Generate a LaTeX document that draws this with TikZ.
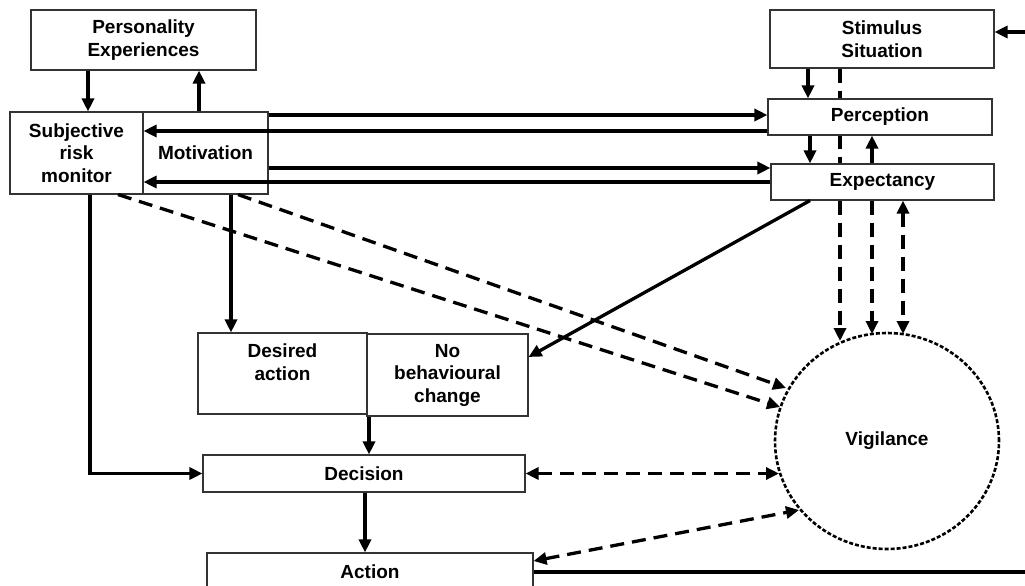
\documentclass[tikz,border=0pt]{standalone}
\usepackage{fontspec}
\setmainfont{Liberation Sans}
\usetikzlibrary{arrows.meta,shapes.geometric}
\pgfdeclarelayer{paper}
\pgfdeclarelayer{behind}
\pgfsetlayers{paper,behind,main}
\begin{document}
\begin{tikzpicture}[x=1pt,y=-1pt,
  lbl/.style={font=\bfseries\fontsize{19}{22.5}\selectfont},
  box/.style={lbl,draw=black!80,line width=1.1pt,fill=white,rectangle,
    inner sep=0pt,align=center},
  arr/.style={line width=3.3pt,-{Triangle[length=13pt,width=12pt]}},
  darr/.style={arr,dash pattern=on 14pt off 8pt},
  ddarr/.style={line width=3.3pt,dash pattern=on 14pt off 8pt,
    {Triangle[length=13pt,width=12pt]}-{Triangle[length=13pt,width=12pt]}},
  feed/.style={line width=4.5pt},
  vigshape/.style={lbl,ellipse,draw=black,line width=2.6pt,
    dash pattern=on 4pt off 2pt,inner sep=0pt,
    minimum width=224pt,minimum height=216pt}
]
\useasboundingbox (0,0) rectangle (1025,586);
\begin{pgfonlayer}{paper}
  \fill[white] (0,0) rectangle (1025,586);
\end{pgfonlayer}
\clip (0,0) rectangle (1025,586);

% boxes
\node[box,minimum width=225pt,minimum height=60pt] (pers) at (143.5,40) {Personality\\Experiences};
\node[box,minimum width=133pt,minimum height=82pt] (srm) at (76.5,153) {Subjective\\risk\\monitor};
\node[box,minimum width=125pt,minimum height=82pt] (motiv) at (205.5,153) {Motivation};
\node[box,minimum width=224pt,minimum height=58pt] (stim) at (882,39) {Stimulus\\Situation};
\node[box,minimum width=224pt,minimum height=36pt] (perc) at (880,117) {Perception};
\node[box,minimum width=223pt,minimum height=36pt] (expe) at (882.5,182) {Expectancy};
\node[box,minimum width=169pt,minimum height=81pt] (desired) at (282.5,373.5) {Desired\\action\\\mbox{}};
\node[box,minimum width=161pt,minimum height=82pt] (nochange) at (447.5,375) {No\\behavioural\\change};
\node[box,minimum width=322pt,minimum height=37pt] (decision) at (364,473.5) {Decision};
\node[box,minimum width=326pt,minimum height=37pt] (action) at (370,571.5) {Action};
\node[vigshape] (vig) at (887,441) {Vigilance};

% guides for the connector positions
\coordinate (gA) at (88,0);
\coordinate (gB) at (199,0);
\coordinate (gC) at (808,0);
\coordinate (gD) at (840,0);
\coordinate (gE) at (810,0);
\coordinate (gF) at (872,0);
\coordinate (gG) at (903,0);
\coordinate (gH) at (231,0);
\coordinate (gI) at (369,0);
\coordinate (gJ) at (365,0);
\coordinate (gK) at (90,0);
\coordinate (gL) at (118,0);
\coordinate (gM) at (238,0);
\coordinate (hA) at (0,115);
\coordinate (hB) at (0,131);
\coordinate (hC) at (0,168);
\coordinate (hD) at (0,182);
\coordinate (hG) at (0,357);
\coordinate (hS) at (0,561);
\coordinate (inR) at (1025,32);
\coordinate (outR) at (1025,572);
% points on the vigilance border
\coordinate (v1) at (840,341);
\coordinate (v2) at (872,334);
\coordinate (v3) at (903,334);
\coordinate (v4) at (786,388);
\coordinate (v5) at (780,407);
\coordinate (v6) at (779,473.5);
\coordinate (v7) at (799,510);

% dashed line from the stimulus runs behind the boxes
\begin{pgfonlayer}{behind}
  \draw[darr] (stim.south -| gD) -- (v1);
\end{pgfonlayer}

% solid connectors
\draw[arr] (inR) -- (stim.east |- inR);
\draw[arr] (pers.south -| gA) -- (srm.north -| gA);
\draw[arr] (motiv.north -| gB) -- (pers.south -| gB);
\draw[arr] (motiv.east |- hA) -- (perc.west |- hA);
\draw[arr] (perc.west |- hB) -- (srm.east |- hB);
\draw[arr] (motiv.east |- hC) -- (expe.west |- hC);
\draw[arr] (expe.west |- hD) -- (srm.east |- hD);
\draw[arr] (stim.south -| gC) -- (perc.north -| gC);
\draw[arr] (perc.south -| gE) -- (expe.north -| gE);
\draw[arr] (expe.north -| gF) -- (perc.south -| gF);
\draw[arr] (motiv.south -| gH) -- (desired.north -| gH);
\draw[arr] (expe.south -| gE) -- (nochange.east |- hG);
\draw[arr] (nochange.south -| gI) -- (decision.north -| gI);
\draw[arr] (srm.south -| gK) |- (decision.west);
\draw[arr] (decision.south -| gJ) -- (action.north -| gJ);
\draw[feed] (action.east |- outR) -- (outR);

% dashed connectors to vigilance
\draw[darr] (expe.south -| gF) -- (v2);
\draw[ddarr] (expe.south -| gG) -- (v3);
\draw[darr] (motiv.south -| gM) -- (v4);
\draw[darr] (srm.south -| gL) -- (v5);
\draw[ddarr] (decision.east) -- (v6);
\draw[ddarr] (action.east |- hS) -- (v7);
\end{tikzpicture}
\end{document}
